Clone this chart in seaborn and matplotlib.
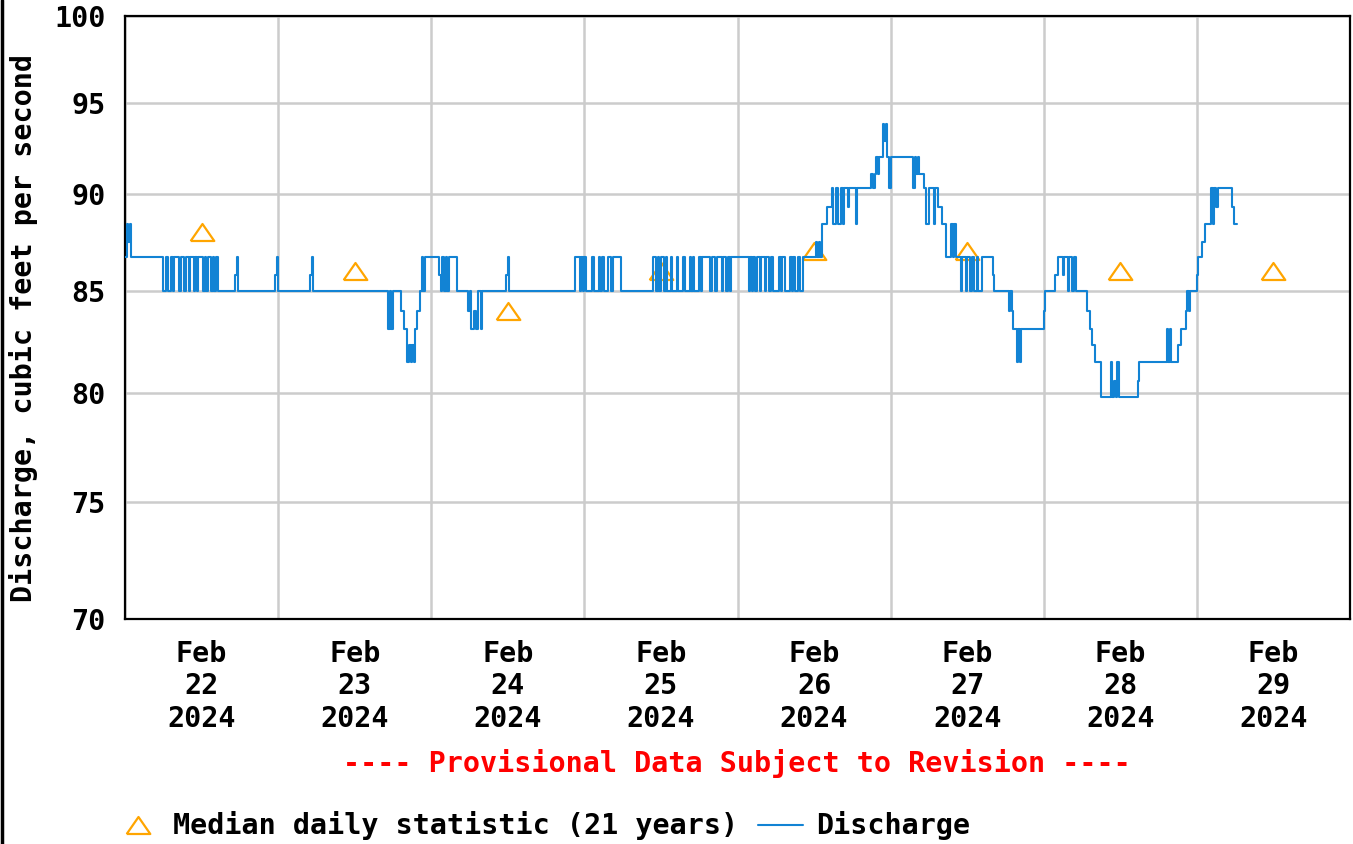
import matplotlib.pyplot as plt
import matplotlib.ticker as mticker
import matplotlib.dates as mdates
import numpy as np
import pandas as pd
import seaborn as sns

# hours since 2024-02-22 00:00 where the 15-minute discharge changes, and the new value (cfs)
flow_hours = [
    0.0, 0.25, 0.5, 0.75, 1.0,
    6.0, 6.5, 6.75, 7.25, 7.5, 7.75, 8.5, 8.75, 9.25, 9.5, 10.0, 10.25, 10.75, 11.0,
    11.25, 11.5, 12.25, 12.5, 12.75, 13.0, 13.5, 13.75, 14.0, 14.25, 14.5,
    17.25, 17.5, 17.75, 23.5, 23.75, 24.0, 29.0, 29.25, 29.5,
    41.25, 41.5, 41.75, 42.0, 43.25, 43.75, 44.25, 44.5, 44.75, 45.0, 45.25, 45.5,
    45.75, 46.25, 46.5, 46.75, 47.0,
    49.25, 49.5, 49.75, 50.0, 50.25, 50.5, 50.75, 52.0,
    53.75, 54.0, 54.25, 54.75, 55.0, 55.25, 55.75, 56.0,
    59.75, 60.0, 60.25,
    70.5, 71.25, 71.5, 71.75, 72.0, 72.25, 73.25, 73.5, 74.25, 74.5, 74.75, 75.0,
    75.75, 76.25, 76.5, 77.75,
    82.75, 83.25, 83.5, 83.75, 84.0, 84.5, 84.75, 85.0, 85.5, 85.75, 86.5, 86.75,
    87.5, 87.75, 88.5, 88.75, 89.0, 89.25, 90.0, 90.25, 90.5, 91.75, 92.0, 92.5,
    92.75, 93.5, 93.75, 94.25, 94.5, 94.75, 95.0, 97.75, 98.0, 98.25, 98.5, 98.75,
    99.0, 99.5, 99.75, 100.25, 100.5, 101.0, 101.25, 101.5, 102.5, 102.75, 103.0,
    103.5, 104.25, 104.5, 104.75, 105.0, 105.5, 105.75, 106.25,
    108.25, 108.5, 108.75, 109.0, 109.25, 110.0, 110.75, 111.0, 111.5, 111.75,
    112.25, 112.5, 112.75, 113.25, 113.5, 114.5, 114.75,
    117.0, 117.25, 117.5, 117.75, 118.0, 118.25, 118.75, 119.0, 119.25, 119.5,
    119.75, 120.0,
    123.5, 123.75, 124.0, 124.25, 124.5, 125.25, 125.5, 126.0, 126.75, 127.0,
    127.5, 128.0, 128.75, 129.5, 129.75, 130.0, 130.25,
    131.0, 131.25, 131.75, 132.0, 132.5, 132.75, 133.0, 133.5, 133.75, 134.25,
    136.0, 136.25,
    138.5, 138.75, 139.0, 139.25, 139.75, 140.0, 140.25, 140.5,
    144.0, 144.25,
    145.75, 146.25, 147.0, 147.25, 147.75, 148.0, 148.5, 148.75, 149.0,
    150.75, 151.25, 151.5, 152.0,
    153.0, 154.5, 154.75, 155.0, 155.25, 155.5, 155.75,
    158.75, 159.0,
    163.25, 163.5, 163.75, 164.0,
    165.0, 165.5, 166.25, 166.5, 166.75, 167.0,
    168.0, 168.25, 168.75, 169.25,
    170.25, 170.5, 170.75, 171.0, 171.25,
    173.5, 173.75, 174.25,
]
flow_cfs = [
    86.7, 88.4, 87.5, 88.4, 86.7,
    85.0, 86.7, 85.0, 86.7, 85.0, 86.7, 85.0, 86.7, 85.0, 86.7, 85.0, 86.7, 85.0, 86.7,
    85.0, 86.7, 85.0, 86.7, 85.0, 86.7, 85.0, 86.7, 85.0, 86.7, 85.0,
    85.8, 86.7, 85.0, 85.8, 86.7, 85.0, 85.8, 86.7, 85.0,
    83.1, 85.0, 83.1, 85.0, 84.0, 83.1, 81.5, 82.3, 81.5, 82.3, 81.5, 83.1,
    84.0, 85.0, 86.7, 85.0, 86.7,
    85.8, 85.0, 86.7, 85.0, 86.7, 85.0, 86.7, 85.0,
    84.0, 85.0, 83.1, 84.0, 83.1, 85.0, 83.1, 85.0,
    85.8, 86.7, 85.0,
    86.7, 85.0, 86.7, 85.0, 86.7, 85.0, 86.7, 85.0, 86.7, 85.0, 86.7, 85.0,
    86.7, 85.0, 86.7, 85.0,
    86.7, 85.0, 86.7, 85.0, 86.7, 85.0, 86.7, 85.0, 86.7, 85.0, 86.7, 85.0,
    86.7, 85.0, 86.7, 85.0, 86.7, 85.0, 86.7, 85.0, 86.7, 85.0, 86.7, 85.0,
    86.7, 85.0, 86.7, 85.0, 86.7, 85.0, 86.7, 85.0, 86.7, 85.0, 86.7, 85.0,
    86.7, 85.0, 86.7, 85.0, 86.7, 85.0, 86.7, 85.0, 86.7, 85.0, 86.7,
    85.0, 86.7, 85.0, 86.7, 85.0, 86.7, 85.0, 86.7,
    87.5, 86.7, 87.5, 86.7, 88.4, 89.3, 90.3, 88.4, 90.3, 88.4,
    90.3, 88.4, 90.3, 89.3, 90.3, 88.4, 90.3,
    91.1, 90.3, 91.1, 92.0, 91.1, 92.0, 93.8, 92.9, 93.8, 92.0,
    90.3, 92.0,
    90.3, 92.0, 91.1, 92.0, 91.1, 90.3, 88.4, 90.3, 88.4, 90.3,
    89.3, 88.4, 86.7, 88.4, 86.7, 88.4, 86.7,
    85.0, 86.7, 85.0, 86.7, 85.0, 86.7, 85.0, 86.7, 85.0, 86.7,
    85.8, 85.0,
    84.0, 85.0, 84.0, 83.1, 81.5, 83.1, 81.5, 83.1,
    84.0, 85.0,
    85.8, 86.7, 85.8, 86.7, 85.0, 86.7, 85.0, 86.7, 85.0,
    84.0, 83.1, 82.3, 81.5,
    79.8, 81.5, 79.8, 80.6, 79.8, 81.5, 79.8,
    80.6, 81.5,
    83.1, 81.5, 83.1, 81.5,
    82.3, 83.1, 84.0, 85.0, 84.0, 85.0,
    85.8, 86.7, 87.5, 88.4,
    90.3, 88.4, 90.3, 89.3, 90.3,
    89.3, 88.4, 88.4,
]

median_days = ["2024-02-22 12:00", "2024-02-23 12:00", "2024-02-24 12:00", "2024-02-25 12:00",
               "2024-02-26 12:00", "2024-02-27 12:00", "2024-02-28 12:00", "2024-02-29 12:00"]
median_cfs = [88, 86, 84, 86, 87, 87, 86, 86]

y_ticks = [70, 75, 80, 85, 90, 95, 100]
start = pd.Timestamp("2024-02-22")

flow = pd.DataFrame({
    "time": start + pd.to_timedelta(flow_hours, unit="h"),
    "cfs": flow_cfs,
})
median = pd.DataFrame({"time": pd.to_datetime(median_days), "cfs": median_cfs})

sns.set_style("whitegrid")
plt.rcParams["font.family"] = ["DejaVu Sans Mono"]
plt.rcParams["font.weight"] = "bold"
for key in ["text.color", "axes.labelcolor", "xtick.color", "ytick.color"]:
    plt.rcParams[key] = "black"
FS = 20.4

fig = plt.figure(figsize=(13.53, 8.44), dpi=100)
ax = fig.add_axes([125 / 1353, 1 - 619 / 844, 1225 / 1353, 603 / 844])

tri = [(-1, -0.72), (1, -0.72), (0, 0.72), (-1, -0.72)]
sns.lineplot(data=median, x="time", y="cfs", ax=ax, linestyle="", marker=tri,
             markersize=17, markerfacecolor="none", markeredgecolor="#ffa500",
             markeredgewidth=1.6, label="Median daily statistic (21 years)", zorder=2)
sns.lineplot(data=flow, x="time", y="cfs", ax=ax, drawstyle="steps-post",
             color="#1283d4", linewidth=1.5, estimator=None, sort=False,
             label="Discharge", zorder=3)

ax.set_yscale("log")
ax.set_ylim(70, 100)
ax.yaxis.set_major_locator(mticker.FixedLocator(y_ticks))
ax.yaxis.set_major_formatter(mticker.FixedFormatter([str(t) for t in y_ticks]))
ax.yaxis.set_minor_locator(mticker.NullLocator())

ax.set_xlim(start, start + pd.Timedelta(days=8))
ax.xaxis.set_major_locator(mdates.HourLocator(byhour=[12]))
ax.xaxis.set_major_formatter(mdates.DateFormatter("%b\n%d\n%Y"))
ax.xaxis.set_minor_locator(mdates.DayLocator())

ax.grid(False)
ax.grid(True, which="minor", axis="x", color="#cccccc", linewidth=1.8)
ax.grid(True, which="major", axis="y", color="#cccccc", linewidth=1.8)
ax.set_axisbelow(True)

ax.tick_params(axis="both", which="both", length=0, labelsize=FS, colors="black")
ax.tick_params(axis="x", pad=15)
ax.tick_params(axis="y", pad=14)
for lab in ax.get_xticklabels():
    lab.set_linespacing(1.2)
    lab.set_fontweight("bold")
for lab in ax.get_yticklabels():
    lab.set_fontweight("bold")

for sp in ax.spines.values():
    sp.set_color("black")
    sp.set_linewidth(1.6)

ax.set_xlabel("")
ax.set_ylabel("Discharge, cubic feet per second", fontsize=FS, fontweight="bold", color="black")
ax.yaxis.set_label_coords(-0.071, 0.483)

handles, labels = ax.get_legend_handles_labels()
if ax.get_legend() is not None:
    ax.get_legend().remove()
fig.legend(handles, labels, loc="center left", bbox_to_anchor=(115 / 1353, 1 - 826 / 844),
           ncol=2, frameon=False, handlelength=1.6, handletextpad=0.45,
           columnspacing=0.7, borderpad=0, borderaxespad=0, labelcolor="black",
           prop={"weight": "bold", "size": FS})

fig.text(737 / 1353, 1 - 763 / 844, "---- Provisional Data Subject to Revision ----",
         color="red", ha="center", va="center", fontsize=FS, fontweight="bold")

fig.add_artist(plt.Line2D([0.0012, 0.0012], [0, 1], color="black", linewidth=2.5))

fig.savefig("out.png", dpi=100)
